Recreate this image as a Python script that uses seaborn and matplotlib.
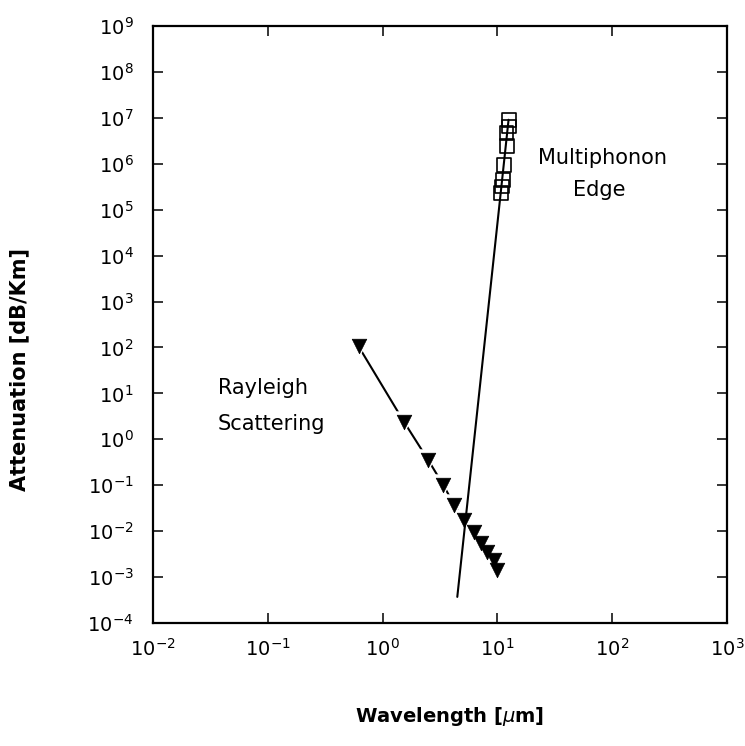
import matplotlib
matplotlib.use("Agg")
import matplotlib.pyplot as plt
import matplotlib.ticker as mticker
import seaborn as sns
import pandas as pd

# ---- data ----
rayleigh_wl = [0.618, 1.53, 2.49, 3.37, 4.21, 5.15, 6.26, 7.14, 8.18, 9.36, 10.0]
rayleigh_att = [105, 2.43, 0.356, 0.102, 0.037, 0.0175, 0.0098, 0.0055, 0.0036, 0.0024, 0.0014]

multiphonon_wl = [12.5, 12.5, 12.0, 12.06, 11.4, 11.2, 10.9, 10.7]
multiphonon_att = [9.1e6, 6.5e6, 4.7e6, 2.4e6, 9.6e5, 4.5e5, 3.2e5, 2.3e5]

multiphonon_fit_wl = [4.47, 12.5]
multiphonon_fit_att = [3.7e-4, 9.1e6]

x_limits = [1e-2, 1e3]
y_limits = [1e-4, 1e9]

x_label = r"Wavelength [$\mu$m]"
y_label = "Attenuation [dB/Km]"
rayleigh_text = ["Rayleigh", "Scattering"]
multiphonon_text = ["Multiphonon", "Edge"]

# ---- figure ----
sns.set_style("ticks")
plt.rcParams["font.family"] = ["DejaVu Sans"]
plt.rcParams["mathtext.fontset"] = "dejavusans"
plt.rcParams["text.color"] = "black"
plt.rcParams["axes.labelcolor"] = "black"

fig = plt.figure(figsize=(7.45, 7.46), dpi=100)
ax = fig.add_axes([0.2054, 0.1649, 0.7705, 0.8002])

ray_df = pd.DataFrame({"wl": rayleigh_wl, "att": rayleigh_att})
mp_df = pd.DataFrame({"wl": multiphonon_wl, "att": multiphonon_att})
fit_df = pd.DataFrame({"wl": multiphonon_fit_wl, "att": multiphonon_fit_att})

# Rayleigh connecting line
sns.lineplot(data=ray_df, x="wl", y="att", ax=ax, color="black", lw=1.5,
             sort=False, estimator=None, zorder=2)
# white halo under triangles to break the line near markers
sns.scatterplot(data=ray_df, x="wl", y="att", ax=ax, marker="v", s=260,
                color="white", edgecolor="white", linewidth=0, zorder=3)
# multiphonon fit line
sns.lineplot(data=fit_df, x="wl", y="att", ax=ax, color="black", lw=1.5,
             sort=False, estimator=None, zorder=4)
# Rayleigh triangles
sns.scatterplot(data=ray_df, x="wl", y="att", ax=ax, marker="v", s=110,
                color="black", edgecolor="black", linewidth=0.5, zorder=5)
# multiphonon open squares
sns.scatterplot(data=mp_df, x="wl", y="att", ax=ax, marker="s", s=100,
                facecolor="none", edgecolor="black", linewidth=1.2, zorder=5)

ax.set_xscale("log")
ax.set_yscale("log")
ax.set_xlim(x_limits)
ax.set_ylim(y_limits)

ax.xaxis.set_major_locator(mticker.LogLocator(base=10, numticks=20))
ax.yaxis.set_major_locator(mticker.LogLocator(base=10, numticks=20))
ax.xaxis.set_minor_locator(mticker.NullLocator())
ax.yaxis.set_minor_locator(mticker.NullLocator())

for sp in ax.spines.values():
    sp.set_linewidth(1.6)
    sp.set_color("black")

ax.tick_params(which="major", direction="in", length=7, width=1.1,
               top=True, right=True, labelsize=14, colors="black")
ax.tick_params(axis="x", pad=11)
ax.tick_params(axis="y", pad=14)

ax.set_xlabel(x_label, fontsize=14, fontweight="bold", color="black")
ax.set_ylabel(y_label, fontsize=15, fontweight="bold", color="black")
ax.xaxis.set_label_coords(0.517, -0.137)
ax.yaxis.set_label_coords(-0.215, 0.424)

ax.text(0.113, 0.394, rayleigh_text[0], transform=ax.transAxes, fontsize=15,
        ha="left", va="center", color="black")
ax.text(0.113, 0.333, rayleigh_text[1], transform=ax.transAxes, fontsize=15,
        ha="left", va="center", color="black")
ax.text(0.671, 0.779, multiphonon_text[0], transform=ax.transAxes, fontsize=15,
        ha="left", va="center", color="black")
ax.text(0.732, 0.725, multiphonon_text[1], transform=ax.transAxes, fontsize=15,
        ha="left", va="center", color="black")

fig.savefig("out.png", dpi=100, facecolor="white")
